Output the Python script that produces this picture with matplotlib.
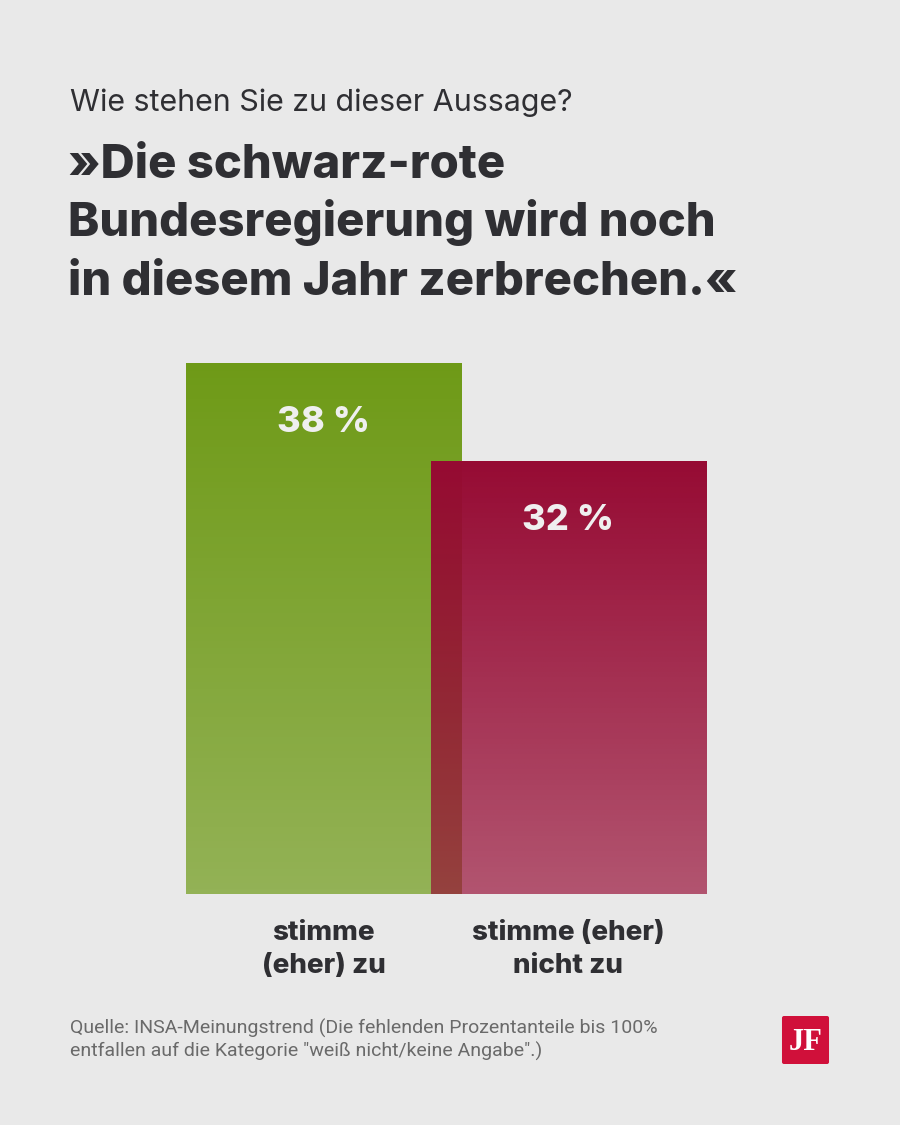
import numpy as np
import matplotlib
matplotlib.use("Agg")
import matplotlib.pyplot as plt
from matplotlib.patches import FancyBboxPatch

# ---- data ----
categories = ["stimme\n(eher) zu", "stimme (eher)\nnicht zu"]
values = [38, 32]
value_labels = ["38 %", "32 %"]
bar_colors = [(0.435, 0.604, 0.090), (0.59, 0.04, 0.20)]
bottom_alpha = [0.70, 0.67]

subtitle = "Wie stehen Sie zu dieser Aussage?"
title_lines = ["»Die schwarz-rote", "Bundesregierung wird noch",
               "in diesem Jahr zerbrechen.«"]
source = ("Quelle: INSA-Meinungstrend (Die fehlenden Prozentanteile bis 100%\n"
          "entfallen auf die Kategorie \"weiß nicht/keine Angabe\".)")

BG = "#e9e9e9"
DARK = "#2f2f33"
W, H = 900, 1125
fig = plt.figure(figsize=(9, 11.25), dpi=100, facecolor=BG)


def fx(px):
    return px / W


def fy(py):
    return 1 - py / H


# axes placement
ax = fig.add_axes([fx(186), fy(894), fx(706) - fx(186), fy(363) - fy(894)])
ax.set_facecolor("none")
YMIN = 5.49
ax.set_xlim(-0.5625, 1.5625)
ax.set_ylim(YMIN, 38)
for s in ax.spines.values():
    s.set_visible(False)
ax.set_xticks([])
ax.set_yticks([])

width = 1.125
x = np.arange(len(values))
bars = ax.bar(x, values, width=width, color="none", zorder=1)

for i, (b, c, a0) in enumerate(zip(bars, bar_colors, bottom_alpha)):
    x0 = b.get_x()
    x1 = x0 + b.get_width()
    y1 = b.get_height()
    n = 256
    alpha = np.linspace(1.0, a0, n)[:, None]
    img = np.zeros((n, 2, 4))
    img[..., 0] = c[0]
    img[..., 1] = c[1]
    img[..., 2] = c[2]
    img[..., 3] = alpha
    ax.imshow(img, extent=(x0, x1, YMIN, y1), origin="upper", aspect="auto",
              interpolation="bilinear", zorder=2 + i)
    ax.annotate(value_labels[i], xy=(b.get_x() + b.get_width() / 2, y1),
                xycoords="data", xytext=(0, -69 * 0.72), textcoords="offset points",
                ha="center", va="baseline", color="#efefef", fontsize=26,
                fontweight="heavy", family="Inter", zorder=10)

ax.set_xlim(-0.5625, 1.5625)
ax.set_ylim(YMIN, 38)

# category labels (one text per line, baselines at fixed offsets)
for xi, lab in zip(x, categories):
    for j, line in enumerate(lab.split("\n")):
        ax.annotate(line, xy=(xi, YMIN), xycoords="data",
                    xytext=(0, -(46 + 33 * j) * 0.72), textcoords="offset points",
                    ha="center", va="baseline", fontsize=20,
                    fontweight="heavy", color=DARK, family="Inter")

# header
fig.text(fx(70), fy(111), subtitle, ha="left", va="baseline", fontsize=21.9,
         color=DARK, family="Inter")
for j, line in enumerate(title_lines):
    fig.text(fx(68), fy(178 + 58.5 * j), line, ha="left", va="baseline",
             fontsize=34, fontweight="heavy", color=DARK, family="Inter")

# source
fig.text(fx(70), fy(1040), source, ha="left", va="center", fontsize=14,
         color="#6a6a6a", family="Roboto", linespacing=1.29)

# logo
lax = fig.add_axes([fx(781), fy(1065), fx(830) - fx(781), fy(1015) - fy(1065)])
lax.set_axis_off()
lax.add_patch(FancyBboxPatch((0.02, 0.02), 0.96, 0.96,
                             boxstyle="round,pad=0,rounding_size=0.04",
                             facecolor="#d0103a", edgecolor="none",
                             transform=lax.transAxes))
lax.text(0.5, 0.46, "JF", ha="center", va="center", color="white",
         fontsize=22, fontweight="bold", family="Liberation Serif",
         transform=lax.transAxes)

fig.savefig("out.png", dpi=100, facecolor=BG)
